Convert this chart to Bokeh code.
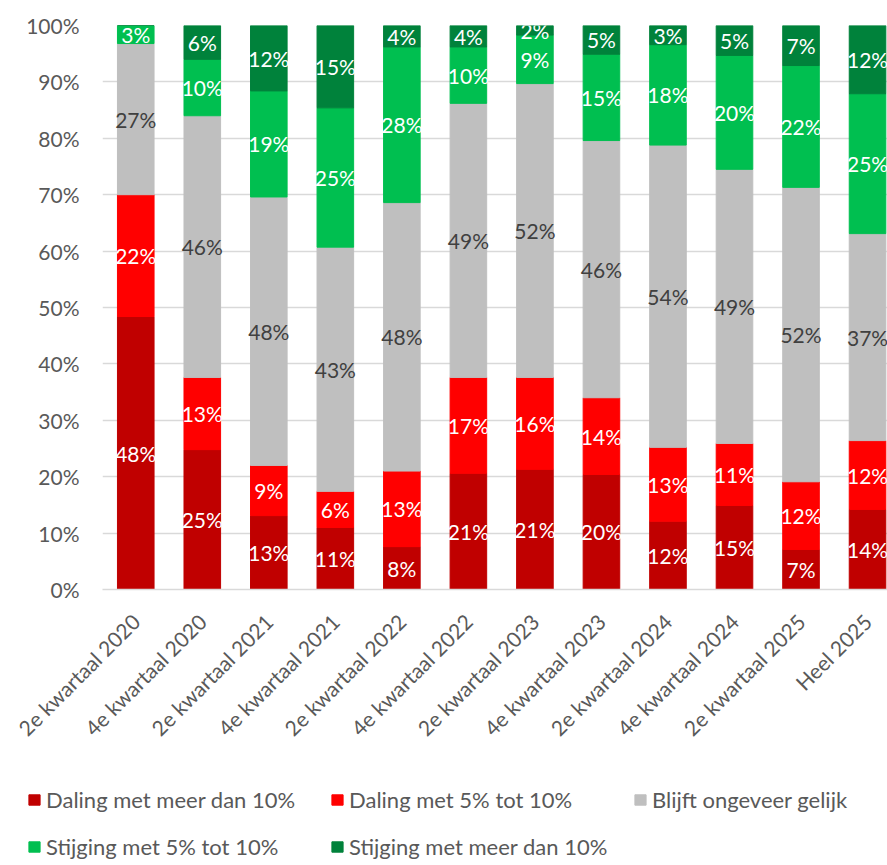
import math
from bokeh.plotting import figure
from bokeh.layouts import column
from bokeh.models import (Range1d, FixedTicker, Legend, LegendItem,
                          ColumnDataSource, NumeralTickFormatter)
from bokeh.core.properties import value
from bokeh.embed import file_html
from bokeh.resources import INLINE

categories = ["2e kwartaal 2020", "4e kwartaal 2020", "2e kwartaal 2021",
              "4e kwartaal 2021", "2e kwartaal 2022", "4e kwartaal 2022",
              "2e kwartaal 2023", "4e kwartaal 2023", "2e kwartaal 2024",
              "4e kwartaal 2024", "2e kwartaal 2025", "Heel 2025"]

daling_meer_dan_10 = [48.4, 24.8, 13.1, 11.0, 7.6, 20.6, 21.3, 20.4, 12.1, 14.9, 7.1, 14.2]
daling_5_tot_10 = [21.6, 12.8, 8.9, 6.4, 13.4, 17.0, 16.3, 13.6, 13.1, 11.0, 12.0, 12.2]
blijft_gelijk = [26.8, 46.4, 47.6, 43.3, 47.6, 48.6, 52.1, 45.6, 53.6, 48.6, 52.2, 36.7]
stijging_5_tot_10 = [3.2, 10.0, 18.8, 24.7, 27.6, 10.0, 8.6, 15.3, 17.8, 20.2, 21.6, 24.8]
stijging_meer_dan_10 = [0.0, 6.0, 11.6, 14.6, 3.8, 3.8, 1.7, 5.1, 3.4, 5.3, 7.1, 12.1]

series_names = ["Daling met meer dan 10%", "Daling met 5% tot 10%",
                "Blijft ongeveer gelijk", "Stijging met 5% tot 10%",
                "Stijging met meer dan 10%"]
y_ticks = [0.0, 0.1, 0.2, 0.3, 0.4, 0.5, 0.6, 0.7, 0.8, 0.9, 1.0]

series = [daling_meer_dan_10, daling_5_tot_10, blijft_gelijk,
          stijging_5_tot_10, stijging_meer_dan_10]
colors = ["#C00000", "#FF0000", "#BFBFBF", "#00BF50", "#00823B"]
label_colors = ["#FFFFFF", "#FFFFFF", "#404040", "#FFFFFF", "#FFFFFF"]
FONT = "Lato"
TXT = "#595959"

xs = list(range(len(categories)))
keys = ["s%d" % i for i in range(len(series))]
data = {"x": xs}
for k, s in zip(keys, series):
    data[k] = [v / 100.0 for v in s]
src = ColumnDataSource(data)

p = figure(width=887, height=760, x_range=Range1d(-0.5, 11.3),
           y_range=Range1d(0, 1), output_backend="svg", toolbar_location=None,
           min_border_left=102, min_border_right=0, min_border_top=25,
           min_border_bottom=171)
p.outline_line_color = None
p.background_fill_color = "white"
p.border_fill_color = "white"
p.frame_align = False

rs = p.vbar_stack(keys, x="x", width=0.55, color=colors, source=src)

# data labels
lx, ly, lt, lc = [], [], [], []
cum = [0.0] * len(categories)
for s, c in zip(series, label_colors):
    for i, v in enumerate(s):
        if round(v) > 0:
            lx.append(i)
            ly.append((cum[i] + v / 2.0) / 100.0)
            lt.append("%d%%" % round(v))
            lc.append(c)
        cum[i] += v
p.text(x="x", y="y", text="t", text_color="c",
       source=ColumnDataSource(dict(x=lx, y=ly, t=lt, c=lc)),
       text_align="center", text_baseline="middle",
       text_font=value(FONT), text_font_size="21px")

# grid
p.xgrid.visible = False
p.ygrid.ticker = FixedTicker(ticks=y_ticks)
p.ygrid.grid_line_color = "#D9D9D9"
p.ygrid.grid_line_width = 1.5

# y axis
p.yaxis.ticker = FixedTicker(ticks=y_ticks)
p.yaxis.formatter = NumeralTickFormatter(format="0%")
p.yaxis.axis_line_color = None
p.yaxis.major_tick_line_color = None
p.yaxis.minor_tick_line_color = None
p.yaxis.major_label_standoff = 17
p.yaxis.major_label_text_font = FONT
p.yaxis.major_label_text_font_size = "21px"
p.yaxis.major_label_text_color = TXT

# x axis
p.xaxis.ticker = FixedTicker(ticks=xs)
p.xaxis.major_label_overrides = {i: c for i, c in enumerate(categories)}
p.xaxis.major_label_orientation = math.pi / 4
p.xaxis.axis_line_color = "#D9D9D9"
p.xaxis.axis_line_width = 1.5
p.xaxis.major_tick_line_color = None
p.xaxis.minor_tick_line_color = None
p.xaxis.major_label_standoff = 22
p.xaxis.major_label_text_font = FONT
p.xaxis.major_label_text_font_size = "21px"
p.xaxis.major_label_text_color = TXT

# legend panel (separate figure below the chart); the same stacked series are
# drawn there outside the visible y range so that only the legend shows
lg = figure(width=887, height=105, x_range=Range1d(-0.5, 11.3), y_range=Range1d(5, 6),
            output_backend="svg", toolbar_location=None,
            x_axis_location=None, y_axis_location=None,
            min_border_left=0, min_border_right=0, min_border_top=0,
            min_border_bottom=0)
lg.outline_line_color = None
lg.grid.visible = False
lg.frame_align = False
swatches = lg.vbar_stack(keys, x="x", width=0.55, color=colors, source=src)


def make_legend(idx, loc):
    leg = Legend(items=[LegendItem(label=series_names[i], renderers=[swatches[i]]) for i in idx],
                 orientation="horizontal", location=loc)
    leg.glyph_width = 14
    leg.glyph_height = 13
    leg.label_standoff = 5
    leg.label_width = 284
    leg.label_height = 13
    leg.spacing = 0
    leg.padding = 0
    leg.margin = 0
    leg.border_line_color = None
    leg.background_fill_alpha = 0
    leg.label_text_font = FONT
    leg.label_text_font_size = "22px"
    leg.label_text_color = TXT
    return leg


lg.add_layout(make_legend([0, 1, 2], (27, 52)))
lg.add_layout(make_legend([3, 4], (27, 5)))

layout = column(p, lg, spacing=0)
open("out.html", "w").write(file_html(layout, INLINE))
